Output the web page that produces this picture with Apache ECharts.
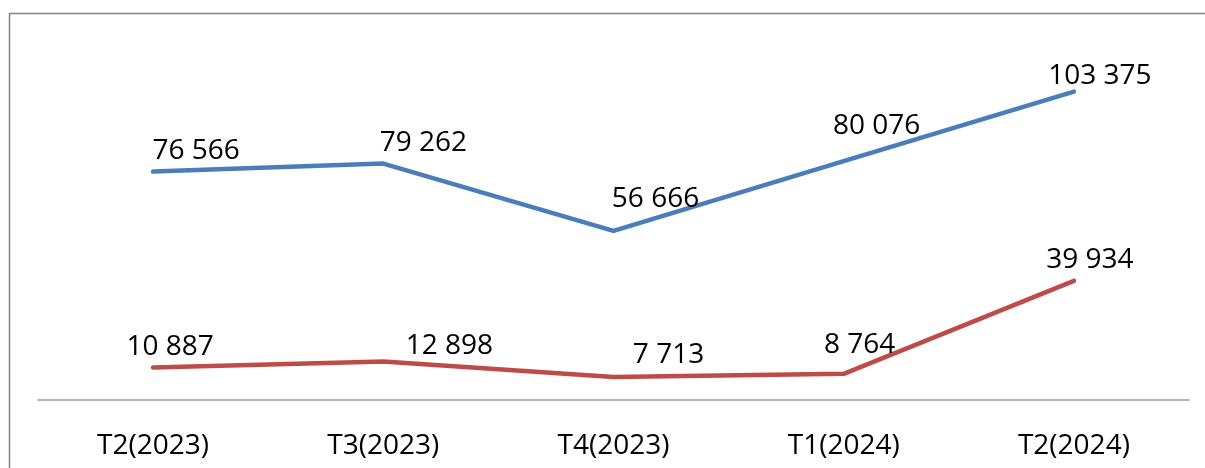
<!DOCTYPE html>
<html>
<head>
<meta charset="utf-8">
<script src="https://cdn.jsdelivr.net/npm/echarts@6/dist/echarts.min.js"></script>
<style>
html,body{margin:0;padding:0;background:#fff;}
#chart{width:1205px;height:468px;}
</style>
</head>
<body>
<div id="chart"></div>
<script>
const categories = ['T2(2023)', 'T3(2023)', 'T4(2023)', 'T1(2024)', 'T2(2024)'];
const seriesA = [76566, 79262, 56666, 80076, 103375];
const seriesB = [10887, 12898, 7713, 8764, 39934];
// label offsets (style): label centre relative to its point
const labelOffsetsA = [[43, -21], [40, -21], [42, -32], [33, -35], [26, -16]];
const labelOffsetsB = [[17, -20], [66, -15], [55, -22], [16, -29], [16, -21]];

const fmt = v => String(v).replace(/\B(?=(\d{3})+(?!\d))/g, ' ');
const FONT = 'Open Sans';

function buildData(values, offsets) {
  return values.map((v, i) => ({
    value: v,
    label: { offset: offsets[i] }
  }));
}

function makeSeries(name, values, offsets, color) {
  return {
    name: name,
    type: 'line',
    data: buildData(values, offsets),
    symbol: 'circle',
    symbolSize: 1,
    itemStyle: { color: color },
    lineStyle: { color: color, width: 4.5, cap: 'round', join: 'round' },
    label: {
      show: true,
      position: 'inside',
      align: 'center',
      verticalAlign: 'middle',
      fontFamily: FONT,
      fontSize: 28,
      color: '#000',
      formatter: p => fmt(p.value)
    },
    emphasis: { disabled: true },
    z: 3
  };
}

const chart = echarts.init(document.getElementById('chart'));
chart.setOption({
  animation: false,
  backgroundColor: '#fff',
  graphic: [{
    type: 'rect',
    shape: { x: 9.5, y: 13.5, width: 1400, height: 1000 },
    style: { fill: 'none', stroke: '#868686', lineWidth: 1.5 },
    z: 0, silent: true
  }],
  grid: { left: 38, right: 16, top: 42, bottom: 68 },
  xAxis: {
    type: 'category',
    data: categories,
    boundaryGap: true,
    axisLine: { show: true, lineStyle: { color: '#a0a0a0', width: 1.5 } },
    axisTick: { show: false },
    axisLabel: {
      fontFamily: FONT,
      fontSize: 28,
      color: '#000',
      margin: 32,
      interval: 0
    },
    splitLine: { show: false }
  },
  yAxis: {
    type: 'value',
    min: 0,
    max: 120000,
    interval: 20000,
    show: false,
    splitLine: { show: false }
  },
  series: [
    makeSeries('A', seriesA, labelOffsetsA, '#4A7EBB'),
    makeSeries('B', seriesB, labelOffsetsB, '#BE4B48')
  ]
});
</script>
</body>
</html>
